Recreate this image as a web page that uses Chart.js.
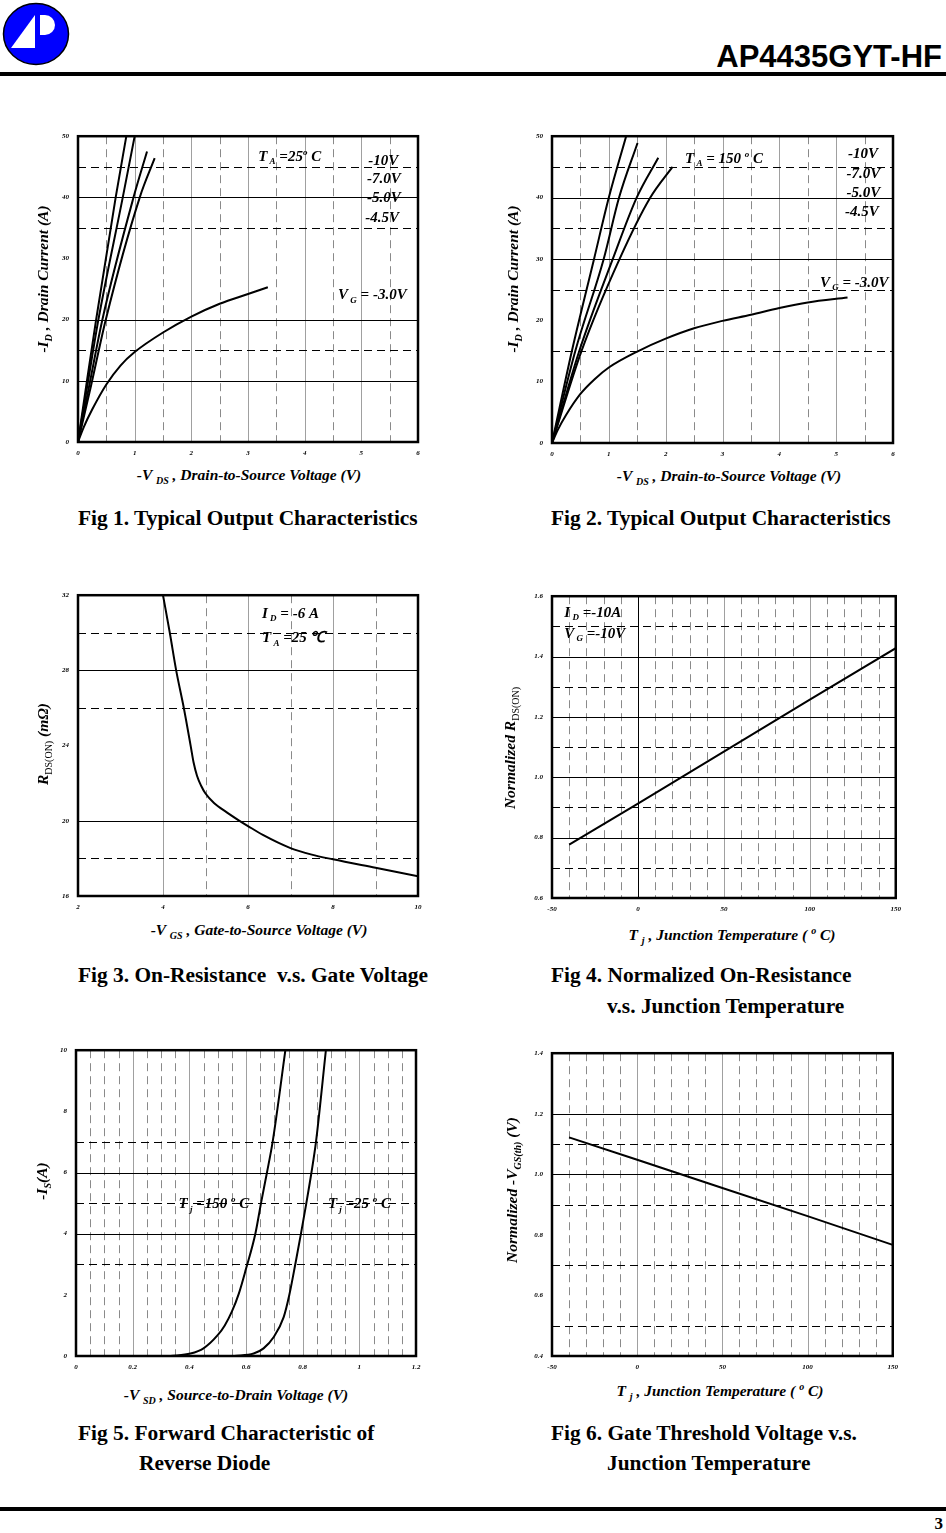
<!DOCTYPE html>
<html>
<head>
<meta charset="utf-8">
<script src="https://cdn.jsdelivr.net/npm/chart.js@4.4.0/dist/chart.umd.min.js"></script>
<style>
  body { margin: 0; width: 946px; height: 1533px; position: relative; background: #fff; font-family: "Liberation Serif", "Times New Roman", serif; overflow: hidden; }
  .abs { position: absolute; white-space: nowrap; line-height: 1; }
  canvas { position: absolute; }
  .cap { font-weight: bold; font-size: 21.4px; transform: translateY(-50%); }
  .axt { font-weight: bold; font-style: italic; font-size: 15.5px; transform: translate(-50%, -50%); }
  .vt { transform: translate(-50%, -50%) rotate(-90deg); }
  sub, sup { font-size: 10px; line-height: 0; }
  .up { font-style: normal; font-weight: normal; }
  .rule { position: absolute; left: 0; width: 946px; height: 4px; background: #000; }
</style>
</head>
<body>

<svg class="abs" style="left:0;top:0" width="72" height="68">
  <ellipse cx="36" cy="34" rx="32.5" ry="30.5" fill="#0000ff" stroke="#000" stroke-width="1.5"/>
  <polygon points="11,48 35,15 35,48" fill="#fff"/>
  <path d="M40,15 h5 a10,10 0 0 1 0,20 h-5 z" fill="#fff"/>
</svg>
<div class="abs" style="right:4px;top:39px;font:bold 31px 'Liberation Sans', Arial, sans-serif;">AP4435GYT-HF</div>
<div class="rule" style="top:72px"></div>

<canvas id="c1"></canvas>
<canvas id="c2"></canvas>
<canvas id="c3"></canvas>
<canvas id="c4"></canvas>
<canvas id="c5"></canvas>
<canvas id="c6"></canvas>

<!-- axis titles -->
<div class="abs axt" style="left:249px;top:475px">-V <sub>DS</sub> , Drain-to-Source Voltage (V)</div>
<div class="abs axt vt" style="left:43px;top:279px">-I<sub>D</sub> , Drain Current (A)</div>
<div class="abs axt" style="left:729px;top:476px">-V <sub>DS</sub> , Drain-to-Source Voltage (V)</div>
<div class="abs axt vt" style="left:513px;top:279px">-I<sub>D</sub> , Drain Current (A)</div>
<div class="abs axt" style="left:259px;top:930px">-V <sub>GS</sub> , Gate-to-Source Voltage (V)</div>
<div class="abs axt vt" style="left:43px;top:744px">R<sub class="up">DS(ON)</sub> (mΩ)</div>
<div class="abs axt" style="left:732px;top:935px">T <sub>j</sub> , Junction Temperature ( <sup>o</sup> C)</div>
<div class="abs axt vt" style="left:510px;top:748px">Normalized R<sub class="up">DS(ON)</sub></div>
<div class="abs axt" style="left:236px;top:1395px">-V <sub>SD</sub> , Source-to-Drain Voltage (V)</div>
<div class="abs axt vt" style="left:42px;top:1181px">-I<sub>S</sub>(A)</div>
<div class="abs axt" style="left:720px;top:1391px">T <sub>j</sub> , Junction Temperature ( <sup>o</sup> C)</div>
<div class="abs axt vt" style="left:512px;top:1190px">Normalized -V<sub>GS(th)</sub> (V)</div>

<!-- captions -->
<div class="abs cap" style="left:78px;top:519px">Fig 1. Typical Output Characteristics</div>
<div class="abs cap" style="left:551px;top:519px">Fig 2. Typical Output Characteristics</div>
<div class="abs cap" style="left:78px;top:976px">Fig 3. On-Resistance&nbsp; v.s. Gate Voltage</div>
<div class="abs cap" style="left:551px;top:976px">Fig 4. Normalized On-Resistance</div>
<div class="abs cap" style="left:607px;top:1007px">v.s. Junction Temperature</div>
<div class="abs cap" style="left:78px;top:1434px">Fig 5. Forward Characteristic of</div>
<div class="abs cap" style="left:139px;top:1464px">Reverse Diode</div>
<div class="abs cap" style="left:551px;top:1434px">Fig 6. Gate Threshold Voltage v.s.</div>
<div class="abs cap" style="left:607px;top:1464px">Junction Temperature</div>

<div class="rule" style="top:1507px"></div>
<div class="abs" style="right:3px;top:1515px;font-weight:bold;font-size:17px;">3</div>

<script>
// ---- Fig 1 : output characteristics, Ta = 25 C ----
const vds25_10V = [0, 0.15, 0.32, 0.665, 0.853];
const id25_10V = [0, 9.5, 20, 40, 50];
const vds25_7V = [0, 0.17, 0.36, 0.79, 1.0];
const id25_7V = [0, 9.5, 20, 40, 50];
const vds25_5V = [0, 0.2, 0.43, 0.98, 1.218];
const id25_5V = [0, 9.3, 20, 40, 47.5];
const vds25_45V = [0, 0.23, 0.49, 1.09, 1.353];
const id25_45V = [0, 9.2, 20, 40, 46.4];
const vds25_3V = [0, 0.1, 0.25, 0.5, 0.75, 1.0, 1.5, 2.0, 2.5, 3.0, 3.35];
const id25_3V = [0, 2.4, 5.3, 9.4, 12.5, 14.7, 17.9, 20.5, 22.6, 24.2, 25.3];

// ---- Fig 2 : output characteristics, Ta = 150 C ----
const vds150_10V = [0, 0.35, 0.74, 1.0, 1.305];
const id150_10V = [0, 15, 30, 40, 50];
const vds150_7V = [0, 0.41, 0.91, 1.18, 1.505];
const id150_7V = [0, 15, 30, 40, 48.9];
const vds150_5V = [0, 0.48, 1.07, 1.49, 1.87];
const id150_5V = [0, 15, 30, 40, 46.5];
const vds150_45V = [0, 0.52, 1.19, 1.73, 2.12];
const id150_45V = [0, 15, 30, 40, 45];
const vds150_3V = [0, 0.1, 0.25, 0.5, 0.75, 1.0, 1.5, 2.0, 2.5, 3.0, 3.5, 4.0, 4.5, 5.2];
const id150_3V = [0, 2.1, 4.6, 8.0, 10.4, 12.3, 14.9, 17.0, 18.7, 19.9, 20.9, 22.0, 22.9, 23.7];

// ---- Fig 3 : Rds(on) vs Vgs ----
const vgs = [4.0, 4.16, 4.31, 4.49, 4.65, 4.72, 4.8, 4.9, 5.0, 5.2, 5.5, 5.8, 6.0, 6.35, 7.0, 7.5, 8.0, 9.0, 10.0];
const rdsOn = [32, 30, 28, 26, 24, 23.1, 22.4, 21.85, 21.45, 20.95, 20.45, 20.0, 19.72, 19.25, 18.55, 18.2, 17.95, 17.5, 17.05];

// ---- Fig 4 : normalized Rds(on) vs Tj ----
const tjR = [-40, 0, 50, 100, 150];
const rdsNorm = [0.777, 0.913, 1.085, 1.257, 1.428];

// ---- Fig 5 : body diode forward characteristic ----
const vsd150 = [0.333, 0.404, 0.45, 0.5, 0.525, 0.55, 0.575, 0.6, 0.633, 0.653, 0.674, 0.694, 0.739];
const is150 = [0, 0.08, 0.25, 0.68, 1.0, 1.45, 2.05, 2.85, 4, 5, 6, 7, 10];
const vsd25 = [0.559, 0.627, 0.662, 0.698, 0.733, 0.753, 0.774, 0.794, 0.813, 0.831, 0.847, 0.882];
const is25 = [0, 0.08, 0.25, 0.62, 1.27, 2, 3, 4, 5, 6, 7, 10];

// ---- Fig 6 : normalized Vgs(th) vs Tj ----
const tjV = [-40, 0, 50, 100, 150];
const vthNorm = [1.122, 1.048, 0.955, 0.862, 0.767];

const SERIF = '"Liberation Serif", "Times New Roman", serif';
const pts = (xs, ys) => xs.map((v, i) => ({ x: v, y: ys[i] }));
const steps = (from, to, step, skip) => {
  const out = [];
  for (let i = 0; from + i * step <= to + 1e-9; i++) {
    const v = +(from + i * step).toFixed(4);
    if (!skip || !skip(v)) out.push(v);
  }
  return out;
};

// grid lines like the datasheet: solid / dashed at chosen values
const paperGrid = {
  id: 'paperGrid',
  beforeDatasetsDraw(chart, args, o) {
    const { ctx, chartArea: a, scales: { x, y } } = chart;
    ctx.save();
    ctx.lineWidth = 1;
    const v = (val, color, dash) => {
      const p = Math.round(x.getPixelForValue(val)) + 0.5;
      ctx.strokeStyle = color; ctx.setLineDash(dash);
      ctx.beginPath(); ctx.moveTo(p, a.top); ctx.lineTo(p, a.bottom); ctx.stroke();
    };
    const h = (val, color, dash) => {
      const p = Math.round(y.getPixelForValue(val)) + 0.5;
      ctx.strokeStyle = color; ctx.setLineDash(dash);
      ctx.beginPath(); ctx.moveTo(a.left, p); ctx.lineTo(a.right, p); ctx.stroke();
    };
    (o.vDash || []).forEach(t => v(t, '#8a8a8a', [8, 5]));
    (o.vSolid || []).forEach(t => v(t, '#a0a0a0', []));
    (o.vBlack || []).forEach(t => v(t, '#000', []));
    (o.hDash || []).forEach(t => h(t, '#000', [8, 5]));
    (o.hSolid || []).forEach(t => h(t, '#000', []));
    ctx.restore();
  },
  afterDatasetsDraw(chart) {
    const { ctx, chartArea: a } = chart;
    ctx.save();
    ctx.lineWidth = 2.5;
    ctx.strokeStyle = '#000';
    ctx.strokeRect(a.left, a.top, a.right - a.left, a.bottom - a.top);
    ctx.restore();
  }
};

// text notes with sub/superscripts
const notes = {
  id: 'notes',
  afterDraw(chart, args, o) {
    const { ctx, scales: { x, y } } = chart;
    const size = o.size || 15;
    ctx.save();
    ctx.fillStyle = '#000';
    ctx.textBaseline = 'alphabetic';
    (o.items || []).forEach(n => {
      let cx = x.getPixelForValue(n.x);
      const cy = y.getPixelForValue(n.y);
      n.parts.forEach(([t, k]) => {
        const s = k ? Math.round(size * 0.62) : size;
        ctx.font = `italic bold ${s}px ${SERIF}`;
        const dy = k === 'sub' ? size * 0.22 : k === 'sup' ? -size * 0.42 : 0;
        ctx.fillText(t, cx, cy + dy);
        cx += ctx.measureText(t).width;
      });
    });
    ctx.restore();
  }
};

function curve(xs, ys, straight) {
  return {
    data: pts(xs, ys), borderColor: '#000', borderWidth: 2, pointRadius: 0,
    fill: false, tension: straight ? 0 : 0.4, cubicInterpolationMode: straight ? 'default' : 'monotone'
  };
}

function makeChart(id, rect, xs, ys, datasets, grid, items) {
  const PADL = 10, AXW = 30, PADT = 10, PADR = 12, AXH = 22;
  const cv = document.getElementById(id);
  cv.width = rect[2] + PADL + AXW + PADR;
  cv.height = rect[3] + PADT + AXH;
  cv.style.left = (rect[0] - PADL - AXW) + 'px';
  cv.style.top = (rect[1] - PADT) + 'px';
  const tickFont = { family: SERIF, size: 7, style: 'italic', weight: 'bold' };
  const noGrid = { display: false, drawTicks: false };
  new Chart(cv, {
    type: 'line',
    data: { datasets },
    plugins: [paperGrid, notes],
    options: {
      responsive: false, animation: false, devicePixelRatio: 1,
      layout: { padding: { left: PADL, top: PADT, right: PADR, bottom: 0 } },
      plugins: { legend: { display: false }, tooltip: { enabled: false }, paperGrid: grid, notes: { items } },
      scales: {
        x: {
          type: 'linear', min: xs.min, max: xs.max, grid: noGrid, border: { display: false },
          ticks: { stepSize: xs.step, padding: 7, color: '#000', font: tickFont, maxRotation: 0, autoSkip: false, callback: xs.fmt },
          afterFit: s => { s.height = AXH; }
        },
        y: {
          type: 'linear', min: ys.min, max: ys.max, grid: noGrid, border: { display: false },
          ticks: { stepSize: ys.step, padding: 9, color: '#000', font: tickFont, autoSkip: false, callback: ys.fmt },
          afterFit: s => { s.width = AXW; }
        }
      }
    }
  });
}

const fix1 = v => v.toFixed(1);
const trim = v => String(+v.toFixed(2));
const tempDash = steps(-40, 140, 10, v => v % 50 === 0);

makeChart('c1', [78, 133, 340, 309], { min: 0, max: 6, step: 1 }, { min: 0, max: 50, step: 10 },
  [curve(vds25_10V, id25_10V), curve(vds25_7V, id25_7V), curve(vds25_5V, id25_5V),
   curve(vds25_45V, id25_45V), curve(vds25_3V, id25_3V)],
  { vSolid: [1, 2, 3, 4, 5], vDash: steps(0.5, 5.5, 1), hSolid: [10, 20, 40], hDash: [15, 35, 45] },
  [
    { x: 3.18, y: 45.95, parts: [['T'], [' A', 'sub'], [' =25'], ['o', 'sup'], [' C']] },
    { x: 5.12, y: 45.36, parts: [['-10V']] },
    { x: 5.1, y: 42.3, parts: [['-7.0V']] },
    { x: 5.1, y: 39.2, parts: [['-5.0V']] },
    { x: 5.07, y: 35.95, parts: [['-4.5V']] },
    { x: 4.59, y: 23.3, parts: [['V'], [' G', 'sub'], [' = -3.0V']] }
  ]);

makeChart('c2', [552, 133, 341, 310], { min: 0, max: 6, step: 1 }, { min: 0, max: 50, step: 10 },
  [curve(vds150_10V, id150_10V), curve(vds150_7V, id150_7V), curve(vds150_5V, id150_5V),
   curve(vds150_45V, id150_45V), curve(vds150_3V, id150_3V)],
  { vSolid: [1, 2, 3, 4, 5], vDash: steps(0.5, 5.5, 1), hSolid: [30, 40], hDash: [15, 25, 35, 45] },
  [
    { x: 2.34, y: 45.6, parts: [['T'], [' A', 'sub'], [' = 150 '], ['o', 'sup'], [' C']] },
    { x: 5.21, y: 46.45, parts: [['-10V']] },
    { x: 5.18, y: 43.2, parts: [['-7.0V']] },
    { x: 5.18, y: 40.1, parts: [['-5.0V']] },
    { x: 5.155, y: 37.0, parts: [['-4.5V']] },
    { x: 4.715, y: 25.45, parts: [['V'], [' G', 'sub'], [' = -3.0V']] }
  ]);

makeChart('c3', [78, 592, 340, 304], { min: 2, max: 10, step: 2 }, { min: 16, max: 32, step: 4 },
  [curve(vgs, rdsOn)],
  { vSolid: [4, 6, 8], vDash: [5, 7, 9], hSolid: [20, 28], hDash: [18, 26, 30] },
  [
    { x: 6.33, y: 30.78, parts: [['I'], [' D', 'sub'], [' = -6 A']] },
    { x: 6.33, y: 29.5, parts: [['T'], [' A', 'sub'], [' =25 ℃']] }
  ]);

makeChart('c4', [552, 593, 344, 305], { min: -50, max: 150, step: 50 }, { min: 0.6, max: 1.6, step: 0.2, fmt: fix1 },
  [curve(tjR, rdsNorm, true)],
  { vBlack: [0], vSolid: [50, 100], vDash: tempDash, hSolid: [0.8, 1.0, 1.2, 1.4], hDash: [0.7, 0.9, 1.1, 1.3, 1.5] },
  [
    { x: -42.85, y: 1.5325, parts: [['I'], [' D', 'sub'], [' =-10A']] },
    { x: -42.85, y: 1.461, parts: [['V'], [' G', 'sub'], [' =-10V']] }
  ]);

makeChart('c5', [76, 1047, 340, 309], { min: 0, max: 1.2, step: 0.2, fmt: trim }, { min: 0, max: 10, step: 2 },
  [curve(vsd150, is150), curve(vsd25, is25)],
  { vSolid: [0.2, 0.4, 0.6, 0.8, 1.0], vDash: steps(0.05, 1.15, 0.05, v => Math.abs(v / 0.2 - Math.round(v / 0.2)) < 1e-6),
    hSolid: [4, 6], hDash: [3, 5, 7] },
  [
    { x: 0.362, y: 4.83, parts: [['T'], [' j', 'sub'], [' =150 '], ['o', 'sup'], [' C']] },
    { x: 0.889, y: 4.83, parts: [['T'], [' j', 'sub'], [' =25 '], ['o', 'sup'], [' C']] }
  ]);

makeChart('c6', [552, 1050, 341, 306], { min: -50, max: 150, step: 50 }, { min: 0.4, max: 1.4, step: 0.2, fmt: fix1 },
  [curve(tjV, vthNorm, true)],
  { vSolid: [0, 50, 100], vDash: tempDash, hSolid: [1.0, 1.2], hDash: [0.5, 0.7, 0.9, 1.1] },
  []);
</script>
</body>
</html>
